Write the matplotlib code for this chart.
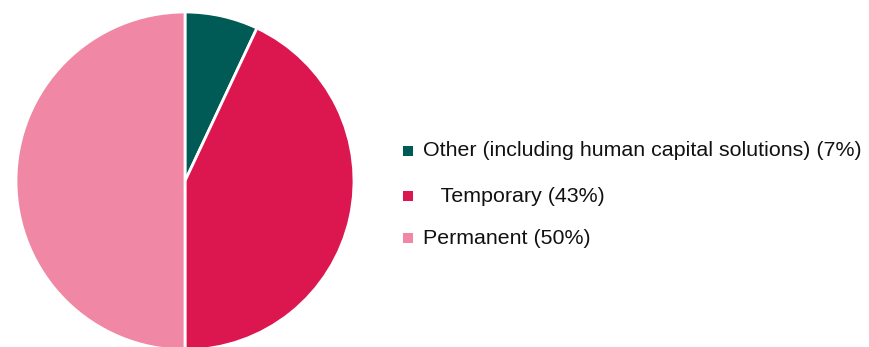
import matplotlib
matplotlib.use("Agg")
import matplotlib.pyplot as plt
from matplotlib.patches import Rectangle

plt.rcParams['font.family'] = ['Liberation Sans', 'DejaVu Sans']

labels = ["Other (including human capital solutions) (7%)", "   Temporary (43%)", "Permanent (50%)"]
values = [7, 43, 50]
colors = ["#005a55", "#dc174f", "#f087a4"]

W, H = 869, 347
fig = plt.figure(figsize=(W / 100, H / 100), dpi=100)

cx, cy, r = 185, 181, 169
ax = fig.add_axes([(cx - r) / W, (H - cy - r) / H, 2 * r / W, 2 * r / H])
ax.pie(values, colors=colors, startangle=90, counterclock=False, radius=1,
       wedgeprops=dict(edgecolor="white", linewidth=2))
ax.set_xlim(-1, 1)
ax.set_ylim(-1, 1)
ax.set_aspect("equal")
ax.axis("off")

rows_y = [151, 196, 238]
for lab, col, y in zip(labels, colors, rows_y):
    fig.patches.append(Rectangle(((403) / W, (H - y - 5) / H), 10 / W, 10 / H,
                                 transform=fig.transFigure, facecolor=col, edgecolor="none"))
    fig.text(423 / W, (H - y) / H, lab, fontsize=15.4, color="#111111",
             va="center", ha="left")

fig.savefig("out.png", dpi=100)
